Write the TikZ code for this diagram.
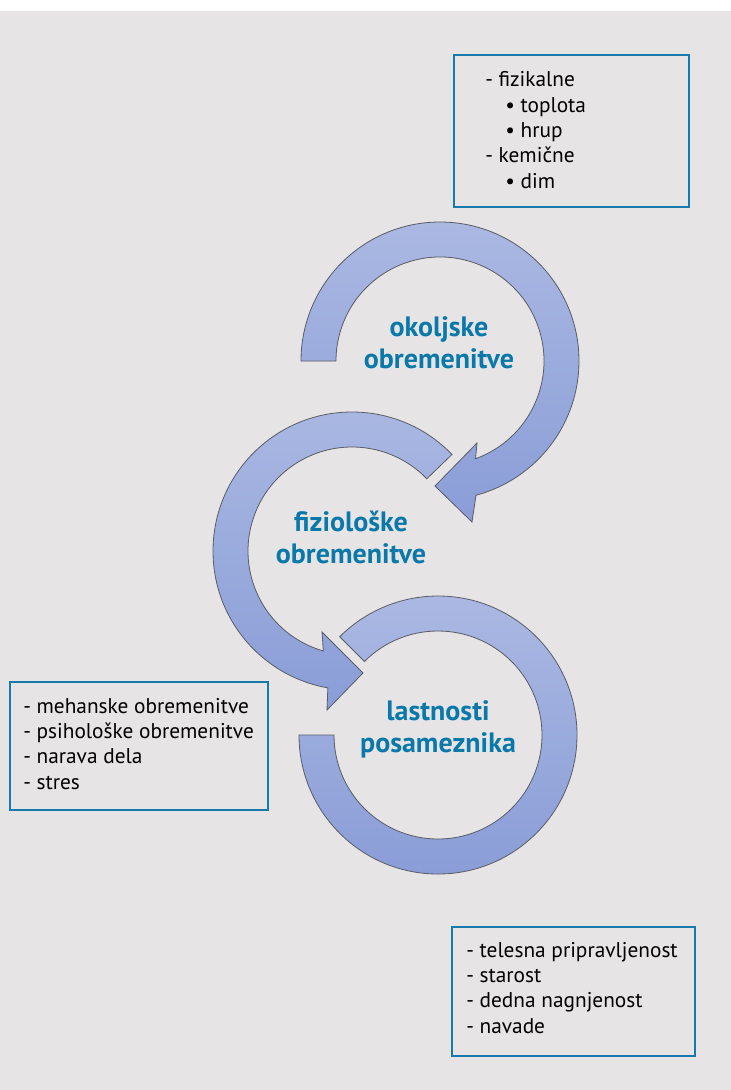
\documentclass[tikz,border=0pt]{standalone}
\usepackage{fontspec}
\setmainfont{PT Sans}
\usetikzlibrary{calc}
\definecolor{bggrey}{HTML}{E6E4E5}
\definecolor{boxblue}{HTML}{1779AC}
\definecolor{labelblue}{HTML}{0A78A8}
\definecolor{arrowtop}{HTML}{AAB8E2}
\definecolor{arrowbot}{HTML}{8A9DD7}
\definecolor{arrowline}{HTML}{5A5C66}
\tikzset{
  arrowband/.style={top color=arrowtop, bottom color=arrowbot, draw=arrowline, line width=0.6pt, line join=miter},
  infobox/.style={draw=boxblue, line width=1.5pt, rectangle, inner sep=0pt, anchor=north west},
  infotext/.style={anchor=base west, align=left, inner sep=0pt, text=black, font=\fontsize{16}{19}\selectfont},
  cyclelabel/.style={anchor=base, align=center, inner sep=0pt, text=labelblue, font=\fontsize{21}{24}\selectfont\bfseries}
}
\begin{document}
\begin{tikzpicture}[x=0.75pt,y=-0.75pt]
\useasboundingbox (0,0) rectangle (731,1090);
\fill[white] (0,0) rectangle (731,1090);
\fill[bggrey] (0,11) rectangle (731,1090);

\coordinate (c1) at (440,361);
\coordinate (c2) at (352,551);
\coordinate (c3) at (438,735);

% arrow 2 (fiziološke)
\path[arrowband] ($(c2)+(-44:139)$) arc[start angle=-44, end angle=-260, radius=139]
  -- (327,710) -- (363,673) -- (322,632)
  -- ($(c2)+(-254:104)$) arc[start angle=-254, end angle=-44, radius=104] -- cycle;

% arrow 1 (okoljske)
\path[arrowband] ($(c1)+(180:139)$) arc[start angle=180, end angle=435, radius=139]
  -- (472,522) -- (435,486) -- (477,443)
  -- ($(c1)+(430:104)$) arc[start angle=430, end angle=180, radius=104] -- cycle;

% arrow 3 (lastnosti)
\path[arrowband] ($(c3)+(180:139)$) arc[start angle=180, end angle=-135, radius=139]
  -- ($(c3)+(-135:104)$) arc[start angle=-135, end angle=180, radius=104] -- cycle;

\node[cyclelabel] (lab1) at (439,368) {okoljske\\obremenitve};
\node[cyclelabel] (lab2) at (351,563) {fiziološke\\obremenitve};
\node[cyclelabel] (lab3) at (438,752) {lastnosti\\posameznika};

% boxes
\node[infobox, minimum width=176.25pt, minimum height=114pt] (box1) at (453,54) {};
\node[infotext] (txt1) at (485,188) {- fizikalne\\\hspace*{15pt}• toplota\\\hspace*{15pt}• hrup\\- kemične\\\hspace*{15pt}• dim};

\node[infobox, minimum width=193.5pt, minimum height=96pt] (box2) at (9,681) {};
\node[infotext] (txt2) at (23,789) {- mehanske obremenitve\\- psihološke obremenitve\\- narava dela\\- stres};

\node[infobox, minimum width=182.25pt, minimum height=96.75pt] (box3) at (451,926) {};
\node[infotext] (txt3) at (466,1033) {- telesna pripravljenost\\- starost\\- dedna nagnjenost\\- navade};
\end{tikzpicture}
\end{document}
